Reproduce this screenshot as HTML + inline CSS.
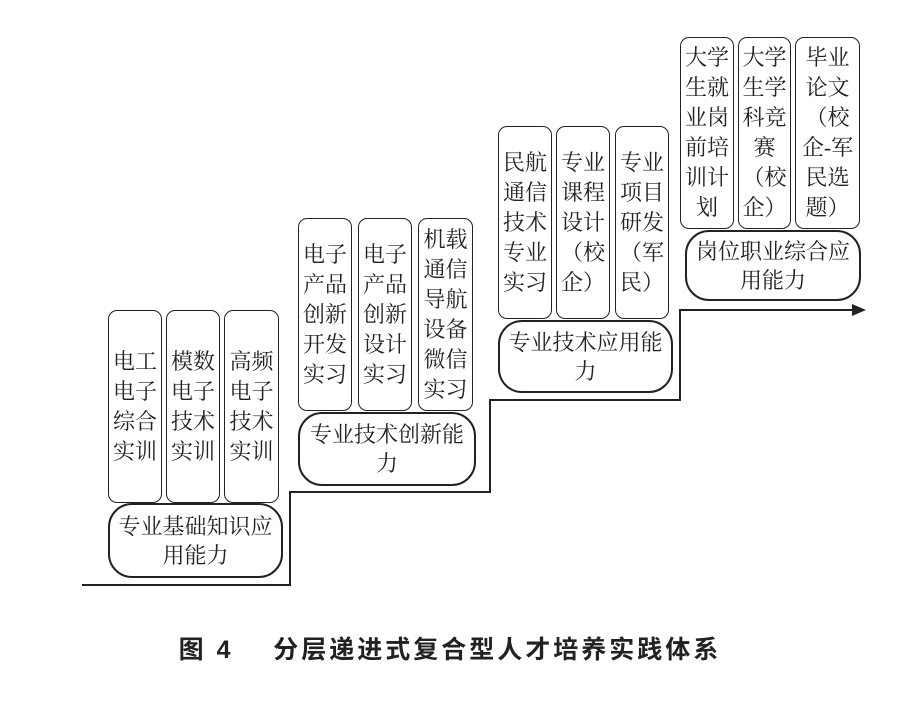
<!DOCTYPE html>
<html><head><meta charset="utf-8"><style>
body{margin:0;width:900px;height:713px;background:#fff;position:relative;overflow:hidden;font-family:"Liberation Serif","Noto Serif CJK SC",serif;color:#222}
.b{position:absolute;border:1.6px solid #222;border-radius:9px;box-sizing:border-box;display:flex;align-items:center;justify-content:center;text-align:center;font-size:22px;line-height:30px;background:#fff}
.r{border-width:2px;border-radius:24px;line-height:29px}
.cap{position:absolute;left:0;width:900px;top:630px;text-align:center;font-family:"Liberation Sans","Noto Sans CJK SC",sans-serif;font-weight:bold;font-size:25px;letter-spacing:3px}
</style></head><body>
<svg style="position:absolute;left:0;top:0" width="900" height="713">
<polyline points="82,585 290,585 290,492 490,492 490,400 680,400 680,310 855,310" fill="none" stroke="#222" stroke-width="2"/>
<polygon points="866,310 852,304 852,316" fill="#222"/>
</svg>

<div class="b" style="left:108px;top:310px;width:54px;height:193px">电工<br>电子<br>综合<br>实训</div>
<div class="b" style="left:166px;top:310px;width:54px;height:193px">模数<br>电子<br>技术<br>实训</div>
<div class="b" style="left:224px;top:310px;width:55px;height:193px">高频<br>电子<br>技术<br>实训</div>
<div class="b r" style="left:108px;top:503px;width:175px;height:75px">专业基础知识应<br>用能力</div>

<div class="b" style="left:298px;top:218px;width:54px;height:193px">电子<br>产品<br>创新<br>开发<br>实习</div>
<div class="b" style="left:358px;top:218px;width:54px;height:193px">电子<br>产品<br>创新<br>设计<br>实习</div>
<div class="b" style="left:418px;top:218px;width:55px;height:193px">机载<br>通信<br>导航<br>设备<br>微信<br>实习</div>
<div class="b r" style="left:298px;top:412px;width:178px;height:74px">专业技术创新能<br>力</div>

<div class="b" style="left:498px;top:126px;width:54px;height:193px">民航<br>通信<br>技术<br>专业<br>实习</div>
<div class="b" style="left:556px;top:126px;width:54px;height:193px">专业<br>课程<br>设计<br>（校<br>企）</div>
<div class="b" style="left:615px;top:126px;width:54px;height:193px">专业<br>项目<br>研发<br>（军<br>民）</div>
<div class="b r" style="left:498px;top:320px;width:175px;height:73px">专业技术应用能<br>力</div>

<div class="b" style="left:680px;top:37px;width:54px;height:192px">大学<br>生就<br>业岗<br>前培<br>训计<br>划</div>
<div class="b" style="left:738px;top:37px;width:53px;height:192px">大学<br>生学<br>科竞<br>赛<br>（校<br>企）</div>
<div class="b" style="left:795px;top:37px;width:65px;height:192px">毕业<br>论文<br>（校<br>企-军<br>民选<br>题）</div>
<div class="b r" style="left:685px;top:230px;width:176px;height:71px">岗位职业综合应<br>用能力</div>

<div class="cap">图 4&nbsp;&nbsp;&nbsp;&nbsp;分层递进式复合型人才培养实践体系</div>
</body></html>
